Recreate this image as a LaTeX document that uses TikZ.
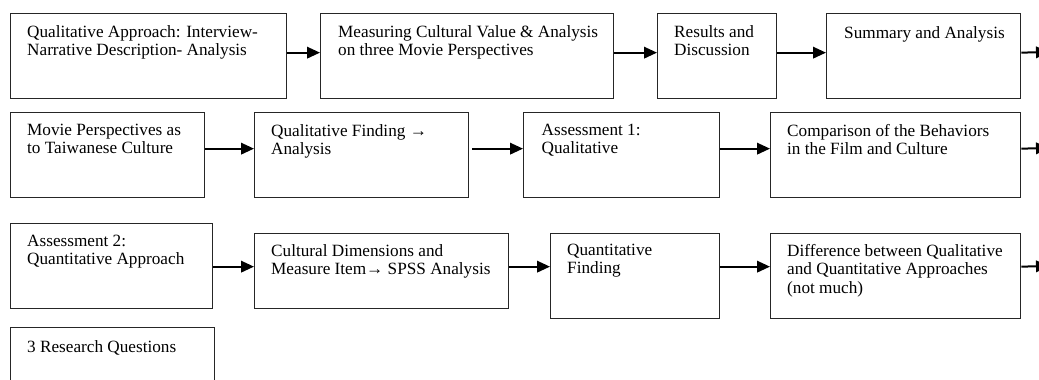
\documentclass[tikz,border=0pt]{standalone}
\usepackage{fontspec}
\setmainfont{Liberation Serif}
\usetikzlibrary{arrows.meta}

\tikzset{
	stagebox/.style={draw=black!85, line width=1.3pt, anchor=north west, inner sep=0pt},
	stagetext/.style={anchor=north west, align=left, inner sep=0pt, font=\fontsize{17.2}{18.4}\selectfont, execute at begin node=\strut},
	flow/.style={-{Triangle[length=13pt,width=11.5pt]}, line width=2pt}
}

\begin{document}
\begin{tikzpicture}[x=1pt, y=-1pt]
		\useasboundingbox (0,0) rectangle (1039,380);
		\clip (0,0) rectangle (1039,380);

		% first row
		\node[stagebox, minimum width=276pt, minimum height=85pt] (qual) at (10,13) {};
		\node[stagebox, minimum width=293pt, minimum height=85pt] (measure) at (320,13) {};
		\node[stagebox, minimum width=119pt, minimum height=85pt] (results) at (657,13) {};
		\node[stagebox, minimum width=194pt, minimum height=85pt] (summary) at (826,13) {};

		\node[stagetext] (qualtxt) at ([shift={(17,12)}]qual.north west) {Qualitative Approach: Interview-\\Narrative Description- Analysis};
		\node[stagetext] (measuretxt) at ([shift={(18,12)}]measure.north west) {Measuring Cultural Value \& Analysis\\on three Movie Perspectives};
		\node[stagetext] (resultstxt) at ([shift={(17,12)}]results.north west) {Results and\\Discussion};
		\node[stagetext] (summarytxt) at ([shift={(18,12)}]summary.north west) {Summary and Analysis};

		\coordinate (out1) at (1049,52);
		\draw[flow] ([yshift=3.5pt]qual.east) -- ([yshift=3.5pt]measure.west);
		\draw[flow] ([yshift=3.5pt]measure.east) -- ([yshift=3.5pt]results.west);
		\draw[flow] ([yshift=3.5pt]results.east) -- ([yshift=3.5pt]summary.west);
		\draw[flow] ([yshift=3.5pt]summary.east) -- (out1);

		% second row
		\node[stagebox, minimum width=194pt, minimum height=85pt] (moviep) at (10,112) {};
		\node[stagebox, minimum width=214pt, minimum height=85pt] (qualf) at (254,112) {};
		\node[stagebox, minimum width=196pt, minimum height=85pt] (assess1) at (523,112) {};
		\node[stagebox, minimum width=250pt, minimum height=85pt] (compare) at (770,112) {};

		\node[stagetext] (movieptxt) at ([shift={(17,12)}]moviep.north west) {Movie Perspectives as\\to Taiwanese Culture};
		\node[stagetext] (qualftxt) at ([shift={(17,12)}]qualf.north west) {Qualitative Finding →\\Analysis};
		\node[stagetext] (assess1txt) at ([shift={(18.5,12)}]assess1.north west) {Assessment 1:\\Qualitative};
		\node[stagetext] (comparetxt) at ([shift={(17,12)}]compare.north west) {Comparison of the Behaviors\\in the Film and Culture};

		\coordinate (out2) at (1049,148);
		\draw[flow] ([yshift=6.5pt]moviep.east) -- ([yshift=6.5pt]qualf.west);
		\draw[flow] ([xshift=3pt, yshift=6.5pt]qualf.east) -- ([yshift=6.5pt]assess1.west);
		\draw[flow] ([yshift=6.5pt]assess1.east) -- ([yshift=6.5pt]compare.west);
		\draw[flow] ([yshift=6.5pt]compare.east) -- (out2);

		% third row
		\node[stagebox, minimum width=202pt, minimum height=85pt] (assess2) at (10,223) {};
		\node[stagebox, minimum width=254pt, minimum height=75pt] (cultural) at (254,233) {};
		\node[stagebox, minimum width=169pt, minimum height=85pt] (quantf) at (550,233) {};
		\node[stagebox, minimum width=250pt, minimum height=85pt] (differ) at (770,233) {};
		\node[stagebox, minimum width=204pt, minimum height=85pt] (questions) at (10,327) {};

		\node[stagetext] (assess2txt) at ([shift={(17,12)}]assess2.north west) {Assessment 2:\\Quantitative Approach};
		\node[stagetext] (culturaltxt) at ([shift={(17,11)}]cultural.north west) {Cultural Dimensions and\\Measure Item→ SPSS Analysis};
		\node[stagetext] (quantftxt) at ([shift={(17,11)}]quantf.north west) {Quantitative\\Finding};
		\node[stagetext] (differtxt) at ([shift={(17,11)}]differ.north west) {Difference between Qualitative\\and Quantitative Approaches\\(not much)};
		\node[stagetext] (questionstxt) at ([shift={(17,12)}]questions.north west) {3 Research Questions};

		\coordinate (out3) at (1049,266);
		\draw[flow] ([yshift=-0.5pt]assess2.east) -- ([yshift=4.5pt]cultural.west);
		\draw[flow] ([yshift=4.5pt]cultural.east) -- ([yshift=9.5pt]quantf.west);
		\draw[flow] ([yshift=9.5pt]quantf.east) -- ([yshift=9.5pt]differ.west);
		\draw[flow] ([yshift=9.5pt]differ.east) -- (out3);
	\end{tikzpicture}
\end{document}
